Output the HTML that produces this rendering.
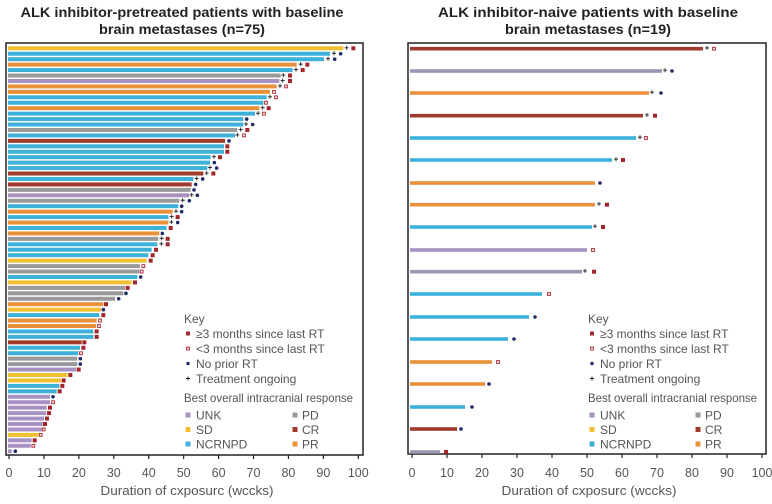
<!DOCTYPE html>
<html><head><meta charset="utf-8"><style>
html,body{margin:0;padding:0;background:#fff;}
svg{display:block;font-family:"Liberation Sans",Arial,sans-serif;}
</style></head><body>
<svg id="s" width="772" height="504" xmlns="http://www.w3.org/2000/svg">
<rect width="772" height="504" fill="#fff"/>
<text x="182" y="17" text-anchor="middle" font-size="14" font-weight="bold" fill="#222" textLength="323" lengthAdjust="spacingAndGlyphs">ALK inhibitor-pretreated patients with baseline</text>
<text x="182" y="34" text-anchor="middle" font-size="14" font-weight="bold" fill="#222" textLength="166" lengthAdjust="spacingAndGlyphs">brain metastases (n=75)</text>
<text x="588" y="17" text-anchor="middle" font-size="14" font-weight="bold" fill="#222" textLength="300" lengthAdjust="spacingAndGlyphs">ALK inhibitor-naive patients with baseline</text>
<text x="588" y="34" text-anchor="middle" font-size="14" font-weight="bold" fill="#222" textLength="166" lengthAdjust="spacingAndGlyphs">brain metastases (n=19)</text>
<rect x="6" y="43" width="357" height="412" fill="none" stroke="#222" stroke-width="1.5"/>
<rect x="408" y="43" width="358" height="411" fill="none" stroke="#222" stroke-width="1.5"/>
<g id="g"></g>
</svg>
<script>
var C={Y:"#f0c030",B:"#3eb1da",O:"#e8913a",G:"#9a9a9a",P:"#a890c2",D:"#a03a2c",Q:"#9d96b2"};
var g=document.getElementById("g"),NS="http://www.w3.org/2000/svg";
function el(t,a,txt){var e=document.createElementNS(NS,t);for(var k in a)e.setAttribute(k,a[k]);if(txt)e.textContent=txt;g.appendChild(e);return e;}
function mark(type,x,y,s){
 if(type=="r")el("rect",{x:x-s/2,y:y-s/2,width:s,height:s,fill:"#a3262c"});
 else if(type=="o")el("rect",{x:x-s/2+0.6,y:y-s/2+0.6,width:s-1.2,height:s-1.2,fill:"#fff",stroke:"#b0303a","stroke-width":1});
 else if(type=="d")el("circle",{cx:x,cy:y,r:s/2,fill:"#1f2a66"});
}
function plus(x,y){el("path",{d:"M"+(x-2)+" "+y+"h4M"+x+" "+(y-2)+"v4",stroke:"#222","stroke-width":0.9});}
var L=[["Y",1030,1040,"r",1060],["B",990,1002,"d",1022],["B",972,984,"d",1004],["O",890,902,"r",922],["B",878,888,"r",908],["G",842,850,"r",870],["P",838,848,"r",870],["O",830,840,"o",858],["O",810,0,"o",822],["B",800,810,"o",828],["B",790,0,"o",798],["O",778,788,"r",806],["B",765,774,"o",792],["B",730,0,"d",740],["B",730,738,"d",758],["G",712,722,"r",742],["B",705,712,"o",732],["D",675,0,"d",687],["B",672,0,"r",682],["B",672,0,"r",682],["B",632,642,"r",660],["B",630,0,"d",643],["B",622,630,"d",650],["D",610,620,"r",640],["B",580,590,"d",608],["D",575,0,"d",587],["G",572,0,"d",582],["P",568,575,"d",592],["G",538,548,"d",568],["B",535,0,"d",545],["O",518,528,"d",545],["B",505,515,"r",533],["O",505,514,"d",533],["B",500,0,"r",512],["O",478,0,"d",487],["G",475,485,"r",503],["B",472,484,"r",503],["B",455,0,"r",468],["B",445,0,"r",458],["Y",440,0,"r",452],["G",420,0,"o",430],["G",418,0,"o",425],["B",412,0,"d",422],["Y",395,0,"r",405],["G",375,0,"r",383],["G",370,0,"d",378],["G",345,0,"d",356],["O",310,0,"r",318],["Y",303,0,"d",310],["B",298,0,"r",310],["O",290,0,"o",300],["O",288,0,"o",297],["B",280,0,"r",290],["B",280,0,"r",290],["D",245,0,"r",253],["B",240,0,"r",250],["B",235,0,"o",243],["G",232,0,"d",241],["G",232,0,"d",241],["P",228,0,"r",236],["Y",202,0,"r",211],["Y",183,0,"r",191],["B",178,0,"r",187],["B",170,0,"r",179],["P",150,0,"d",159],["P",150,0,"o",159],["P",140,0,"r",150],["P",138,0,"r",147],["P",132,0,"r",141],["P",128,0,"r",135],["P",125,0,"o",131],["Y",115,0,"o",122],["P",95,0,"r",104],["P",92,0,"o",100],["P",35,0,"d",46]];
L.forEach(function(r,i){var y=48.3+i*5.445,e=r[1]/3;
 el("rect",{x:8,y:y-2,width:e-8,height:4,fill:C[r[0]]});
 if(r[2])plus(r[2]/3,y-0.5);
 mark(r[3],r[4]/3,y,r[3]=="d"?3.6:4);});
var R=[["D",703,707,"o",714,48.7],["Q",662,665,"d",672,71],["O",649,652,"d",661,93],["D",643,647,"r",655,115.7],["B",636,640,"o",646,138],["B",612,616,"r",623,160],["O",595,0,"d",600,183],["O",595,599,"r",607,204.7],["B",592,595,"r",603,227],["P",587,0,"o",593,250],["Q",582,585,"r",594,271.7],["B",542,0,"o",549,294],["B",529,0,"d",535,317],["B",508,0,"d",514,339],["O",492,0,"o",498,362],["O",485,0,"d",489,384],["B",465,0,"d",472,407],["D",457,0,"d",461,429],["Q",440,0,"r",446,452]];
R.forEach(function(r){var y=r[5];
 el("rect",{x:410,y:y-1.8,width:r[1]-410,height:3.6,fill:C[r[0]]});
 if(r[2])plus(r[2],y-0.8);
 mark(r[3],r[4],y,r[3]=="d"?3.6:4);});
for(var i=0;i<=10;i++){
 var x=9+i*34.93; el("line",{x1:x,y1:455,x2:x,y2:459,stroke:"#222","stroke-width":1.2});
 el("text",{x:x,y:477,"text-anchor":"middle","font-size":12.5,fill:"#555"},String(i*10));
 var x2=412+i*35; el("line",{x1:x2,y1:454,x2:x2,y2:458,stroke:"#222","stroke-width":1.2});
 el("text",{x:x2,y:477,"text-anchor":"middle","font-size":12.5,fill:"#555"},String(i*10));
}
el("text",{x:187,y:495,"text-anchor":"middle","font-size":13,fill:"#555",textLength:173,lengthAdjust:"spacingAndGlyphs"},"Duration of cxposurc (wccks)");
el("text",{x:589,y:495,"text-anchor":"middle","font-size":13,fill:"#555",textLength:175,lengthAdjust:"spacingAndGlyphs"},"Duration of cxposurc (wccks)");
function legend(kx,mx,tx,c2m,c2t,bw){
 el("text",{x:kx,y:323,"font-size":12,fill:"#555"},"Key");
 var items=[["r","≥3 months since last RT"],["o","<3 months since last RT"],["d","No prior RT"],["p","Treatment ongoing"]];
 items.forEach(function(it,i){var y=333.5+i*15;
  if(it[0]=="p")plus(mx,y);else mark(it[0],mx,y,it[0]=="d"?3.4:4);
  el("text",{x:tx,y:y+4.5,"font-size":12,fill:"#555"},it[1]);});
 el("text",{x:kx,y:402,"font-size":12,fill:"#555",textLength:bw,lengthAdjust:"spacingAndGlyphs"},"Best overall intracranial response");
 var lg=[["P","UNK",0],["G","PD",1],["Y","SD",0],["D","CR",1],["B","NCRNPD",0],["O","PR",1]];
 lg.forEach(function(l,i){var row=Math.floor(i/2),y=415+row*14.5;
  var m=l[2]?c2m:mx,t=l[2]?c2t:tx;
  el("rect",{x:m-2.5,y:y-2.5,width:5,height:5,fill:C[l[0]]});
  el("text",{x:t,y:y+4.5,"font-size":12,fill:"#555"},l[1]);});
}
legend(184,188,196,295,302,169);
legend(588,592,600,698,705,169);
</script>
</body></html>
